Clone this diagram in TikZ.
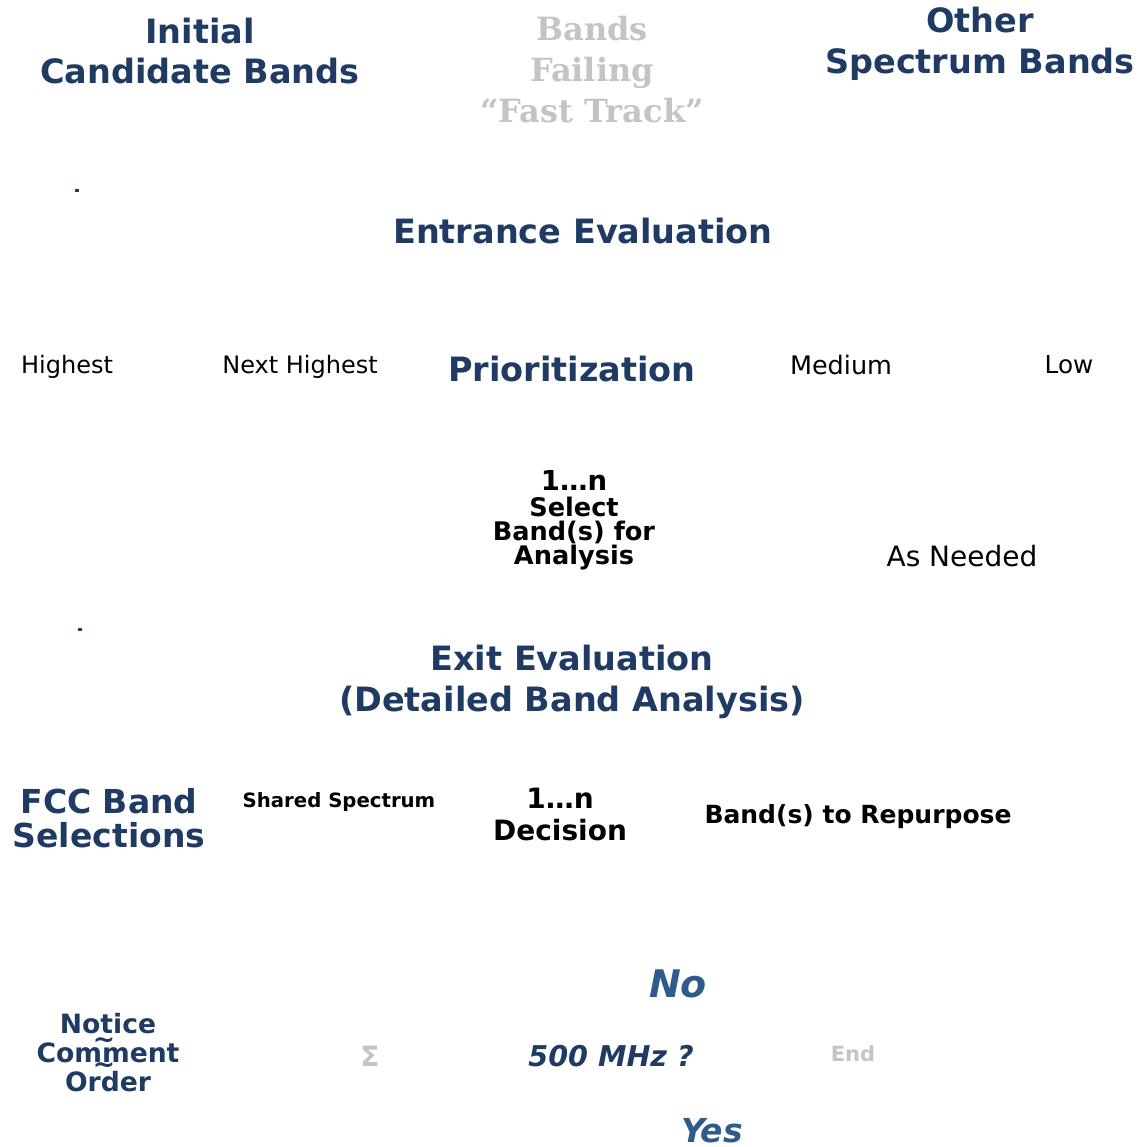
\documentclass[tikz,border=0pt]{standalone}
\usepackage{fontspec}
\setmainfont{DejaVu Sans}
\newfontfamily\slabfont{DejaVu Serif}
\definecolor{navy}{HTML}{1F3A63}
\definecolor{midblue}{HTML}{2F5B8C}
\definecolor{ghost}{HTML}{C4C4C4}
\tikzset{
  base/.style={inner sep=0pt, align=center},
  head/.style={base, font=\fontsize{33.5}{40}\selectfont\bfseries, text=navy},
  ghosttext/.style={base, font=\fontsize{32}{41}\selectfont\slabfont\bfseries, text=ghost},
  lbl/.style={base, font=\fontsize{24}{28}\selectfont, text=black},
  blk/.style={base, font=\fontsize{25.6}{24}\selectfont\bfseries, text=black},
  ital/.style={base, font=\fontsize{28.6}{32}\selectfont\bfseries\itshape, text=navy},
  yesno/.style={base, font=\fontsize{36}{40}\selectfont\bfseries\itshape, text=midblue},
  tildemark/.style={base, anchor=base, font=\fontsize{26.6}{29}\selectfont\bfseries, text=navy},
  dotmark/.style={fill=navy, draw=none, minimum width=4pt, minimum height=3pt, inner sep=0pt}
}
\begin{document}
\begin{tikzpicture}[x=1pt,y=-1pt]
\useasboundingbox (0,0) rectangle (1138,1147);
% top row
\node[head] (initial) at (200,51) {Initial\\Candidate Bands};
\node[ghosttext] (failing) at (592,70) {Bands\\Failing\\“Fast Track”};
\node[head, font=\fontsize{33.5}{41}\selectfont\bfseries] (other) at (980,44) {Other\\Spectrum Bands};
\node[dotmark] (dot1) at (77,191) {};
% entrance
\node[head] (entrance) at (583,231) {Entrance Evaluation};
% prioritization row
\node[lbl] (highest) at (67,367) {Highest};
\node[lbl] (nexthigh) at (300,367) {Next Highest};
\node[head] (prior) at (572,369) {Prioritization};
\node[lbl, font=\fontsize{25.5}{28}\selectfont] (medium) at (841,365) {Medium};
\node[lbl, font=\fontsize{24.7}{28}\selectfont] (low) at (1069,365) {Low};
% select
\node[blk] (select) at (574,520) {{\fontsize{27.5}{29}\selectfont 1…n}\\[2pt]Select\\Band(s) for\\Analysis};
\node[lbl, font=\fontsize{28}{30}\selectfont] (asneeded) at (962,556) {As Needed};
\node[dotmark] (dot2) at (80,629) {};
% exit
\node[head, font=\fontsize{33.5}{41}\selectfont\bfseries] (exit) at (572,682) {Exit Evaluation\\(Detailed Band Analysis)};
% decision row
\node[head, font=\fontsize{33}{34}\selectfont\bfseries] (fcc) at (109,818) {FCC Band\\Selections};
\node[blk, font=\fontsize{19.7}{22}\selectfont\bfseries] (shared) at (339,802) {Shared Spectrum};
\node[blk, font=\fontsize{28}{32}\selectfont\bfseries] (decision) at (560,814) {1…n\\Decision};
\node[blk, font=\fontsize{25}{28}\selectfont\bfseries] (repurpose) at (858,817) {Band(s) to Repurpose};
% bottom
\node[yesno, font=\fontsize{38}{40}\selectfont\bfseries\itshape] (no) at (678,984) {No};
\node[head, font=\fontsize{26.6}{29}\selectfont\bfseries] (notice) at (108,1053) {Notice\\Comment\\Order};
\node[tildemark] (tilde1) at (104,1048) {\textasciitilde};
\node[tildemark] (tilde2) at (104,1073) {\textasciitilde};
\node[base, font=\fontsize{28}{30}\selectfont\bfseries, text=ghost] (sigma) at (370,1056) {Σ};
\node[ital] (mhz) at (611,1056) {500 MHz ?};
\node[base, font=\fontsize{21}{24}\selectfont\bfseries, text=ghost] (endn) at (853,1054) {End};
\node[yesno, font=\fontsize{33}{40}\selectfont\bfseries\itshape] (yes) at (712,1131) {Yes};
\end{tikzpicture}
\end{document}
